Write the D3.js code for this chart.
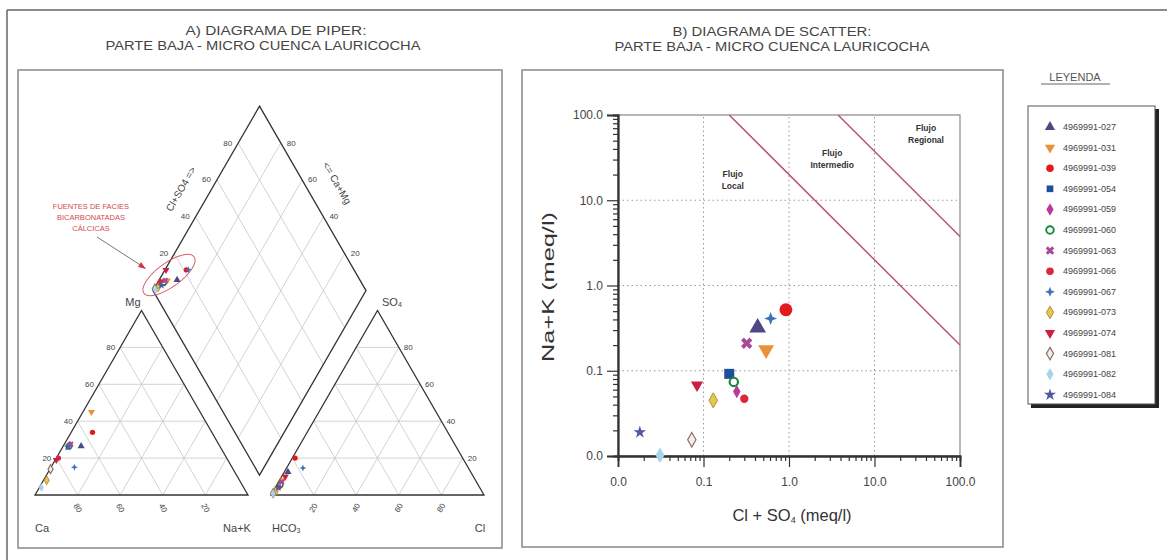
<!DOCTYPE html>
<html><head><meta charset="utf-8">
<script src="https://cdn.jsdelivr.net/npm/d3@7"></script>
<style>body{margin:0;background:#fff} svg{font-family:"Liberation Sans",Arial,sans-serif}</style>
</head><body><svg id="c" width="1167" height="560"></svg>
<script>
// ---------- DATA ----------
const sampleIds = ["4969991-027","4969991-031","4969991-039","4969991-054","4969991-059","4969991-060","4969991-063","4969991-066","4969991-067","4969991-073","4969991-074","4969991-081","4969991-082","4969991-084"];
const sampleColors = ["#4b4a86","#e8913a","#e4191c","#1f4f99","#b83a9e","#15883e","#a8489a","#e0243c","#3b73b5","#b8b23a","#cc1f3f","#8c6f63","#a9d3ea","#4d5aa3"];
const sampleShapes = ["tri","tridown","circle","square","diamond","ring","x","circle","star4","diamond","tridown","diamondOpen","diamond","star"];
// Scatter (meq/l)
const clSO4 = [0.43,0.54,0.92,0.20,0.245,0.226,0.32,0.30,0.61,0.13,0.084,0.073,0.031,0.018];
const naK   = [0.32,0.176,0.52,0.092,0.057,0.074,0.21,0.047,0.41,0.045,0.068,0.0155,0.0102,0.019];
// Piper percentages (cations)
const caPct  = [65.1,51,56,71.5,70,70.7,69.5,79,74,90.5,80.5,85.7,95,71.5];
const mgPct  = [26.5,45,34,26,27,26.5,27.5,20,15,8,19,14,4,26];
const nakPct = [8.4,4,10,2.5,3,2.8,3,1,11,1.5,0.5,0.3,1,2.5];
// Piper percentages (anions)
const hco3Pct = [85.8,90.5,78.7,93.4,92.5,92.9,91.5,94.1,77.7,96.8,88.3,98.5,98.6,94.6];
const so4Pct  = [12.5,8,20,5,6,5.5,7,4.3,14.6,2,10,1,0.8,4];
const clPct   = [1.7,1.5,1.3,1.6,1.5,1.6,1.5,1.6,7.7,1.2,1.7,0.5,0.6,1.4];
// Flow boundary lines (Cl+SO4, Na+K) endpoints
const lineLocal    = [[0.2,100],[100,0.2]];
const lineRegional = [[3.75,100],[100,3.75]];
const flowLabels = [["Flujo","Local",0.22,18.7],["Flujo","Intermedio",3.2,33],["Flujo","Regional",40,65]];
const majorTicks = [0.01,0.1,1,10,100];
const pctTicks = [20,40,60,80];

// ---------- SETUP ----------
const svg = d3.select("#c");
const ink = "#333";
function symPath(shape, size){
  if(shape==="star4"){
    const r = Math.sqrt(size)*0.75, q = r*0.28;
    return `M0,${-r}L${q},${-q}L${r},0L${q},${q}L0,${r}L${-q},${q}L${-r},0L${-q},${-q}Z`;
  }
  const t = {tri:d3.symbolTriangle,tridown:d3.symbolTriangle,circle:d3.symbolCircle,square:d3.symbolSquare,
    diamond:d3.symbolDiamond,diamondOpen:d3.symbolDiamond,ring:d3.symbolCircle,x:d3.symbolCross,star:d3.symbolStar}[shape];
  return d3.symbol(t, size)();
}
function drawSym(g, i, x, y, size){
  const sh = sampleShapes[i], col = sampleColors[i];
  const rot = sh==="tridown" ? 180 : (sh==="x" ? 45 : 0);
  const p = g.append("path").attr("d", symPath(sh,size))
    .attr("transform",`translate(${x},${y}) rotate(${rot})`);
  if(sh==="ring") p.attr("fill","#fff").attr("stroke",col).attr("stroke-width",Math.max(1.5,Math.sqrt(size)/3.5));
  else if(sh==="diamondOpen") p.attr("fill","#f4eeea").attr("stroke",col).attr("stroke-width",1.2);
  else if(i===9) p.attr("fill","#d9cc4e").attr("stroke","#c08a30").attr("stroke-width",1);
  else p.attr("fill",col);
}

// frames
svg.append("line").attr("x1",7).attr("y1",10).attr("x2",1167).attr("y2",10).attr("stroke","#666").attr("stroke-width",1.5);
svg.append("line").attr("x1",7).attr("y1",10).attr("x2",7).attr("y2",560).attr("stroke","#666").attr("stroke-width",1.5);
svg.append("rect").attr("x",18).attr("y",70).attr("width",484).attr("height",478).attr("fill","none").attr("stroke","#888").attr("stroke-width",1.5);
svg.append("rect").attr("x",522).attr("y",70).attr("width",481).attr("height",477).attr("fill","none").attr("stroke","#888").attr("stroke-width",1.5);

// titles
function title(x, y, txt, len){
  svg.append("text").attr("x",x).attr("y",y).attr("text-anchor","middle").attr("font-size",12.5)
    .attr("fill","#444").attr("textLength",len).attr("lengthAdjust","spacingAndGlyphs").text(txt);
}
title(276,35,"A)   DIAGRAMA DE PIPER:",181);
title(263,50,"PARTE BAJA - MICRO CUENCA LAURICOCHA",315);
title(772,36,"B)  DIAGRAMA DE SCATTER:",199);
title(772,51,"PARTE BAJA - MICRO CUENCA LAURICOCHA",315);

// ---------- PIPER ----------
const side = 213, s60 = Math.sqrt(3)/2, hgt = side*s60;
const pct = d3.scaleLinear().domain([0,100]).range([0,side]);
const catO = {x:35,y:495}, anO = {x:271,y:495};
const gap = anO.x - (catO.x+side);
const dB = {x: catO.x+side+gap/2, y: catO.y - gap*s60};
const dL = {x: dB.x - side/2, y: dB.y - hgt};
const catXY = (mg,nak)=>[catO.x + pct(nak) + pct(mg)/2, catO.y - pct(mg)*s60];
const anXY  = (so4,cl)=>[anO.x + pct(cl) + pct(so4)/2, anO.y - pct(so4)*s60];
const diaXY = (a,n)=>[dL.x + (pct(a)+pct(n))/2, dL.y - (pct(a)-pct(n))*s60];

const pg = svg.append("g");
const grid = pg.append("g").attr("stroke","#c8c8c8").attr("stroke-width",0.8).attr("fill","none");
const seg = (a,b)=>grid.append("line").attr("x1",a[0]).attr("y1",a[1]).attr("x2",b[0]).attr("y2",b[1]);
pctTicks.forEach(k=>{
  seg(catXY(k,0),catXY(k,100-k)); seg(catXY(0,k),catXY(100-k,k)); seg(catXY(0,100-k),catXY(100-k,0));
  seg(anXY(k,0),anXY(k,100-k)); seg(anXY(0,k),anXY(100-k,k)); seg(anXY(0,100-k),anXY(100-k,0));
  seg(diaXY(k,0),diaXY(k,100)); seg(diaXY(0,k),diaXY(100,k));
});
const outline = pts => pg.append("path").attr("d",d3.line()(pts)+"Z").attr("fill","none").attr("stroke",ink).attr("stroke-width",1.3);
outline([catXY(0,0),catXY(0,100),catXY(100,0)]);
outline([anXY(0,0),anXY(0,100),anXY(100,0)]);
outline([diaXY(0,0),diaXY(0,100),diaXY(100,100),diaXY(100,0)]);

const lab = (x,y,t,anchor,rot,fs)=>pg.append("text").attr("x",x).attr("y",y).attr("text-anchor",anchor||"middle")
  .attr("font-size",fs||8).attr("fill","#444").attr("dominant-baseline","central")
  .attr("transform",rot?`rotate(${rot},${x},${y})`:null).text(t);
pctTicks.forEach(k=>{
  let p = catXY(k,0); lab(p[0]-5,p[1],k,"end");
  p = catXY(0,k); lab(p[0],p[1]+13,100-k,"middle",60);
  p = anXY(0,k); lab(p[0],p[1]+13,k,"middle",-60);
  p = anXY(k,100-k); lab(p[0]+5,p[1],k,"start");
  p = diaXY(k,0); lab(p[0]-6,p[1],k,"end");
  p = diaXY(100,100-k); lab(p[0]+6,p[1],k,"start");
});
lab(181,189,"Cl+SO4 =>","middle",-60,10);
lab(337,183,"<= Ca+Mg","middle",60,10);
lab(133,302,"Mg","middle",0,11);
const so4t = pg.append("text").attr("x",382).attr("y",302).attr("font-size",11).attr("fill","#444").attr("dominant-baseline","central");
so4t.append("tspan").text("SO"); so4t.append("tspan").attr("font-size",7).attr("dy",2).text("4");
lab(42,528,"Ca","middle",0,11);
lab(237,528,"Na+K","middle",0,11);
const hct = pg.append("text").attr("x",272).attr("y",528).attr("font-size",11).attr("fill","#444").attr("dominant-baseline","central");
hct.append("tspan").text("HCO"); hct.append("tspan").attr("font-size",7).attr("dy",2).text("3");
lab(480,528,"Cl","middle",0,11);

// annotation
const ann = pg.append("g");
ann.append("ellipse").attr("cx",169).attr("cy",275).attr("rx",31).attr("ry",12)
  .attr("transform","rotate(-36,169,275)").attr("fill","none").attr("stroke","#d9606a").attr("stroke-width",1);
ann.append("line").attr("x1",97).attr("y1",237).attr("x2",145).attr("y2",268).attr("stroke","#777").attr("stroke-width",1);
ann.append("path").attr("d","M146,269 L138,267 L141,262 Z").attr("fill","#d03a4a");
["FUENTES DE FACIES","BICARBONATADAS","CÁLCICAS"].forEach((t,j)=>
  ann.append("text").attr("x",91).attr("y",206+j*11).attr("text-anchor","middle").attr("font-size",7.5)
   .attr("fill","#d24a50").attr("dominant-baseline","central").text(t));

const ptsG = pg.append("g");
sampleIds.forEach((id,i)=>{
  let p = catXY(mgPct[i], nakPct[i]); drawSym(ptsG,i,p[0],p[1],22);
  p = anXY(so4Pct[i], clPct[i]); drawSym(ptsG,i,p[0],p[1],22);
  p = diaXY(so4Pct[i]+clPct[i], nakPct[i]); drawSym(ptsG,i,p[0],p[1],22);
});

// ---------- SCATTER ----------
const X = d3.scaleLog().domain([0.01,100]).range([618,960]);
const Y = d3.scaleLog().domain([0.01,100]).range([456,115]);
const minor = [];
for(let d=0.01; d<100; d*=10) for(let m=2;m<=9;m++) minor.push(+(d*m).toPrecision(3));
const sg = svg.append("g");
sg.append("rect").attr("x",X(0.01)).attr("y",Y(100)).attr("width",X(100)-X(0.01)).attr("height",Y(0.01)-Y(100))
  .attr("fill","none").attr("stroke","#888").attr("stroke-width",1.2);
const gridG = sg.append("g").attr("stroke","#999").attr("stroke-width",1).attr("stroke-dasharray","1.5,3");
[0.1,1,10].forEach(v=>{
  gridG.append("line").attr("x1",X(v)).attr("x2",X(v)).attr("y1",Y(0.01)).attr("y2",Y(100));
  gridG.append("line").attr("y1",Y(v)).attr("y2",Y(v)).attr("x1",X(0.01)).attr("x2",X(100));
});
const fmt = d3.format(".1f");
sg.append("g").attr("transform",`translate(${X(0.01)},0)`).call(d3.axisLeft(Y).tickValues(majorTicks).tickFormat(fmt).tickSize(11).tickPadding(4));
sg.append("g").attr("transform",`translate(${X(0.01)},0)`).call(d3.axisLeft(Y).tickValues(minor).tickFormat("").tickSize(5));
sg.append("g").attr("transform",`translate(0,${Y(0.01)})`).call(d3.axisBottom(X).tickValues(majorTicks).tickFormat(fmt).tickSize(11).tickPadding(10));
sg.append("g").attr("transform",`translate(0,${Y(0.01)})`).call(d3.axisBottom(X).tickValues(minor).tickFormat("").tickSize(5));
sg.selectAll(".domain").attr("stroke",ink).attr("stroke-width",1.8);
sg.selectAll(".tick line").attr("stroke",ink).attr("stroke-width",1.2);
sg.selectAll(".tick text").attr("font-size",12).attr("fill","#444").attr("font-family","Liberation Sans, Arial");

const ln = d3.line().x(d=>X(d[0])).y(d=>Y(d[1]));
[lineLocal,lineRegional].forEach(L=>sg.append("path").attr("d",ln(L)).attr("fill","none").attr("stroke","#b9566c").attr("stroke-width",1.5));
flowLabels.forEach(f=>{
  const t = sg.append("text").attr("x",X(f[2])).attr("y",Y(f[3])).attr("text-anchor","middle").attr("font-size",8.5)
    .attr("font-weight","bold").attr("fill","#333");
  t.append("tspan").attr("x",X(f[2])).text(f[0]);
  t.append("tspan").attr("x",X(f[2])).attr("dy",12).text(f[1]);
});
const scSizes = [120,110,130,100,50,55,80,55,75,65,65,60,70,50];
const scG = sg.append("g");
sampleIds.forEach((id,i)=>drawSym(scG,i,X(clSO4[i]),Y(naK[i]),scSizes[i]));

// axis titles
svg.append("text").attr("transform","translate(554,287) rotate(-90)").attr("text-anchor","middle")
  .attr("font-size",17).attr("fill","#333").attr("textLength",150).attr("lengthAdjust","spacingAndGlyphs").text("Na+K (meq/l)");
const xt = svg.append("text").attr("x",792).attr("y",521).attr("text-anchor","middle").attr("font-size",16.5).attr("fill","#333");
xt.append("tspan").text("Cl + SO"); xt.append("tspan").attr("font-size",9).attr("dy",2).text("4");
xt.append("tspan").attr("dy",-2).text(" (meq/l)");

// ---------- LEGEND ----------
const lg = svg.append("g");
lg.append("text").attr("x",1075).attr("y",81).attr("text-anchor","middle").attr("font-size",11).attr("fill","#555").text("LEYENDA");
lg.append("line").attr("x1",1041).attr("x2",1110).attr("y1",84).attr("y2",84).attr("stroke","#666");
lg.append("rect").attr("x",1031).attr("y",109).attr("width",128).attr("height",299).attr("fill","#222");
lg.append("rect").attr("x",1028).attr("y",106).attr("width",127).attr("height",298).attr("fill","#fff").attr("stroke","#555");
sampleIds.forEach((id,i)=>{
  const y = 127 + i*20.6;
  drawSym(lg,i,1050,y,45);
  lg.append("text").attr("x",1063).attr("y",y).attr("dominant-baseline","central").attr("font-size",9)
    .attr("fill","#444").text(id);
});
</script></body></html>
